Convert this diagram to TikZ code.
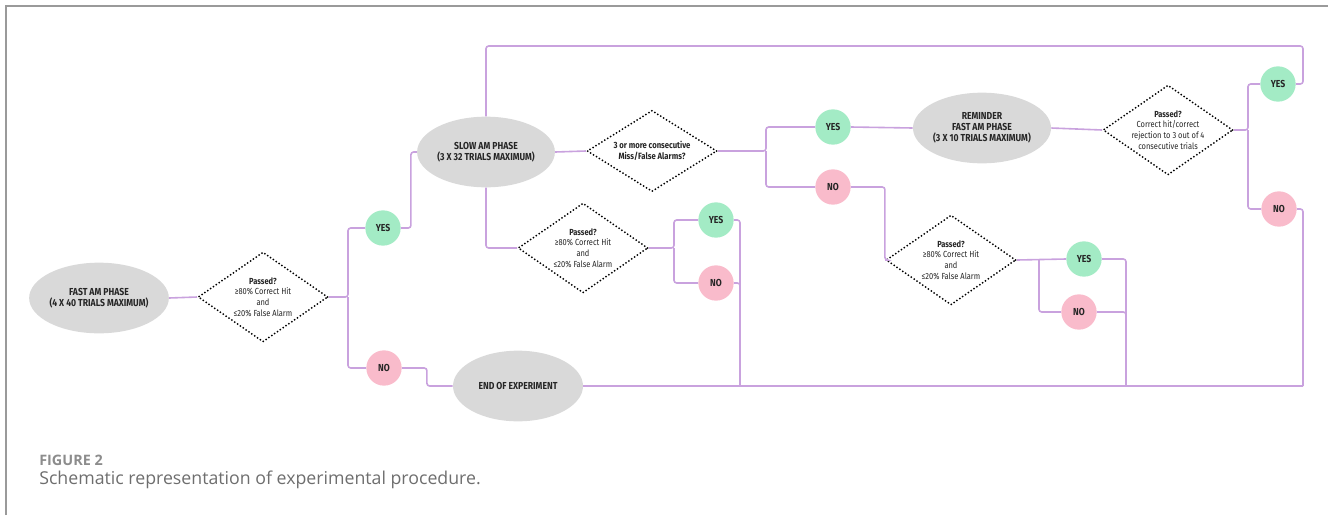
\documentclass[tikz,border=0pt]{standalone}
\usepackage{fontspec}
\setmainfont{Open Sans}
\newfontfamily\cf[FakeStretch=0.85]{Fira Sans}
\usetikzlibrary{shapes.geometric}
\definecolor{ellgray}{HTML}{D9D9D9}
\definecolor{yesg}{HTML}{A3EBC5}
\definecolor{nop}{HTML}{F9BBCB}
\definecolor{conn}{HTML}{C9A2DE}
\definecolor{framec}{HTML}{9A9A9A}
\definecolor{txt}{HTML}{262626}
\definecolor{capa}{HTML}{8C8C8C}
\definecolor{capb}{HTML}{6E6E6E}
\begin{document}
\begin{tikzpicture}[x=0.75pt,y=-0.75pt,
  phase/.style={ellipse, fill=ellgray, inner sep=0pt, minimum width=97.5pt, minimum height=53pt,
    align=center, font=\cf\bfseries\fontsize{7.6}{8.4}\selectfont, text=txt},
  yesn/.style={circle, fill=yesg, inner sep=0pt, minimum size=26.5pt,
    font=\cf\bfseries\fontsize{7.6}{8}\selectfont, text=txt},
  non/.style={circle, fill=nop, inner sep=0pt, minimum size=26.5pt,
    font=\cf\bfseries\fontsize{7.6}{8}\selectfont, text=txt},
  test/.style={diamond, aspect=1.44, draw=black, fill=white, line width=1.5pt,
    dash pattern=on 0pt off 2.6pt, line cap=round, inner sep=-2pt,
    minimum width=97.5pt, minimum height=67.5pt, align=center,
    font=\cf\fontsize{6.6}{8}\selectfont, text=txt},
  link/.style={draw=conn, line width=1.2pt, rounded corners=2pt}
]
\useasboundingbox (0,0) rectangle (1328,515);
% frame
\draw[framec, line width=1.4pt] (6,515) -- (6,6) -- (1328,6);

% nodes
\node[phase] (fast) at (99,298) {FAST AM PHASE\\(4 X 40 TRIALS MAXIMUM)};
\node[test] (d1) at (263,297) {{\bfseries Passed?}\\≥80\% Correct Hit\\and\\≤20\% False Alarm};
\node[yesn] (yes1) at (383,228) {YES};
\node[non] (no1) at (384,368) {NO};
\node[phase] (slow) at (486,152) {SLOW AM PHASE\\(3 X 32 TRIALS MAXIMUM)};
\node[test] (d2) at (583,248) {{\bfseries Passed?}\\≥80\% Correct Hit\\and\\≤20\% False Alarm};
\node[yesn] (yes2) at (716,220) {YES};
\node[non] (no2) at (716,283) {NO};
\node[test, minimum height=61pt, font=\cf\bfseries\fontsize{6.8}{8.4}\selectfont] (d3) at (652,151) {3 or more consecutive\\Miss/False Alarms?};
\node[yesn] (yes3) at (833,127) {YES};
\node[non] (no3) at (833,187) {NO};
\node[phase] (rem) at (982,128) {REMINDER\\FAST AM PHASE\\(3 X 10 TRIALS MAXIMUM)};
\node[test] (d4) at (1168,130) {{\bfseries Passed?}\\Correct hit/correct\\rejection to 3 out of 4\\consecutive trials};
\node[yesn] (yes4) at (1278,84) {YES};
\node[non] (no4) at (1279,209) {NO};
\node[test] (d5) at (951,260) {{\bfseries Passed?}\\≥80\% Correct Hit\\and\\≤20\% False Alarm};
\node[yesn] (yes5) at (1084,259) {YES};
\node[non] (no5) at (1079,312) {NO};
\node[phase] (end) at (518,386) {END OF EXPERIMENT};

% caption
\node[anchor=base west, inner sep=0pt, font=\bfseries\fontsize{10.8}{12}\selectfont, text=capa] (figlabel) at (39,465) {FIGURE 2};
\node[anchor=base west, inner sep=0pt, font=\fontsize{13.3}{15}\selectfont, text=capb] (caption) at (39,484) {Schematic representation of experimental procedure.};

% junction coordinates
\coordinate (b1) at (348,297);
\coordinate (b2) at (674,248);
\coordinate (b3) at (766,151);
\coordinate (b4) at (1248,130);
\coordinate (b5) at (1039,260);
\coordinate (tr) at (1303,46);
\coordinate (v2) at (740,386);
\coordinate (v5) at (1126,386);
\coordinate (v4) at (1303,386);

% connectors
\draw[link] (fast.east) -- (d1.west);
\draw[link] (d1.east) -- (b1) |- (yes1.west);
\draw[link] (b1) |- (no1.west);
\draw[link] (yes1.east) -- ++(10,0) |- (slow.west);
\draw[link] (slow.north) |- (tr) |- (yes4.east);
\draw[link] (slow.south) |- (d2.west);
\draw[link] (d2.east) -- (b2) |- (yes2.west);
\draw[link] (b2) |- (no2.west);
\draw[link] (yes2.east) -| (v2);
\draw[link] (no2.east) -| (v2);
\draw[link] (slow.east) -- (d3.west);
\draw[link] (d3.east) -- (b3) |- (yes3.west);
\draw[link] (b3) |- (no3.west);
\draw[link] (yes3.east) -- (rem.west);
\draw[link] (rem.east) -- (d4.west);
\draw[link] (d4.east) -- (b4) |- (yes4.west);
\draw[link] (b4) |- (no4.west);
\draw[link] (no4.east) -| (v4);
\draw[link] (no3.east) -- ++(34,0) |- (d5.west);
\draw[link] (d5.east) -- (yes5.west);
\draw[link] (b5) |- (no5.west);
\draw[link] (yes5.east) -| (v5);
\draw[link] (no5.east) -| (v5);
\draw[link] (no1.east) -- ++(25,0) |- (end.west);
\draw[link] (end.east) -- (v4);
\end{tikzpicture}
\end{document}
